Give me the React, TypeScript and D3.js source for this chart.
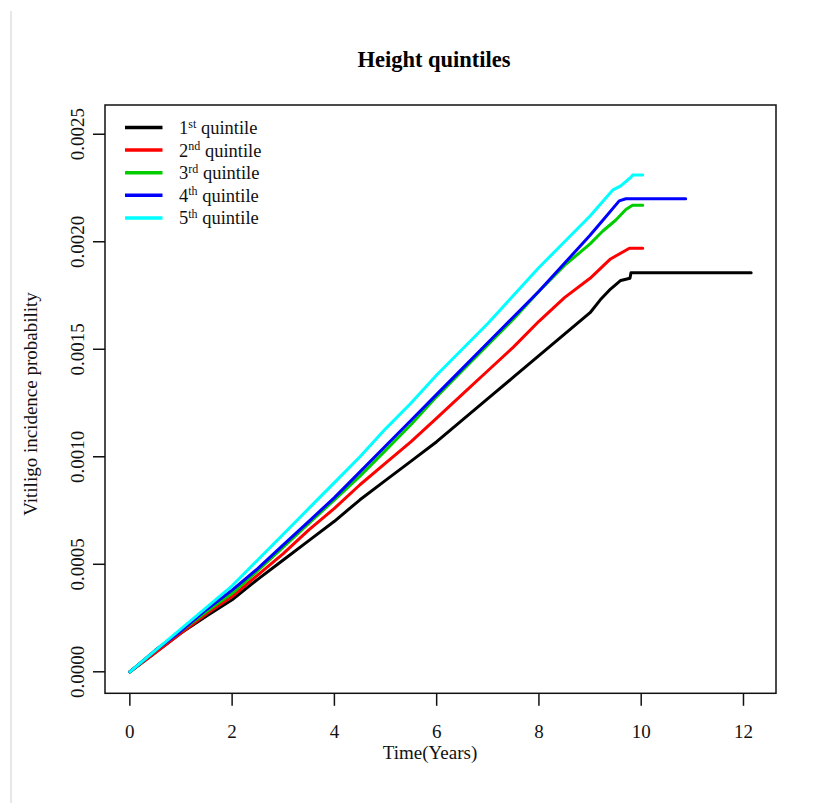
import React from 'react';
import * as d3 from 'd3';

// Cumulative incidence, [years, probability]
const q1: [number, number][] = [
  [0, 0], [0.5, 0.00009], [1, 0.00018], [1.5, 0.00026], [2, 0.000335], [2.5, 0.00043],
  [3, 0.00052], [3.5, 0.00061], [4, 0.0007], [4.5, 0.0008], [5, 0.00089], [5.5, 0.00098],
  [6, 0.00107], [6.5, 0.00117], [7, 0.00127], [7.5, 0.00137], [8, 0.00147], [8.5, 0.00157],
  [9, 0.00167], [9.2, 0.00173], [9.4, 0.00178], [9.6, 0.00182], [9.78, 0.00183],
  [9.8, 0.001856], [12.15, 0.001856],
];
const q2: [number, number][] = [
  [0, 0], [0.5, 0.00009], [1, 0.00018], [1.5, 0.00027], [2, 0.00035], [2.5, 0.00045],
  [3, 0.00055], [3.5, 0.00066], [4, 0.00076], [4.5, 0.00087], [5, 0.00097], [5.5, 0.00107],
  [6, 0.00118], [6.5, 0.00129], [7, 0.0014], [7.5, 0.00151], [8, 0.00163], [8.5, 0.00174],
  [9, 0.00183], [9.4, 0.00192], [9.77, 0.00197], [10.03, 0.00197],
];
const q3: [number, number][] = [
  [0, 0], [0.5, 0.0001], [1, 0.00019], [1.5, 0.00028], [2, 0.000365], [2.5, 0.00047],
  [3, 0.00058], [3.5, 0.00069], [4, 0.0008], [4.5, 0.00091], [5, 0.00103], [5.5, 0.00115],
  [6, 0.00128], [6.5, 0.0014], [7, 0.00152], [7.5, 0.00164], [8, 0.00177], [8.5, 0.00189],
  [9, 0.00199], [9.25, 0.00205], [9.5, 0.0021], [9.7, 0.00215], [9.83, 0.00217], [10.03, 0.00217],
];
const q4: [number, number][] = [
  [0, 0], [0.5, 0.0001], [1, 0.00019], [1.5, 0.00029], [2, 0.00038], [2.5, 0.00048],
  [3, 0.00059], [3.5, 0.0007], [4, 0.00081], [4.5, 0.00093], [5, 0.00105], [5.5, 0.00117],
  [6, 0.00129], [6.5, 0.00141], [7, 0.00153], [7.5, 0.00165], [8, 0.00177], [8.5, 0.0019],
  [9, 0.00203], [9.25, 0.0021], [9.57, 0.00219], [9.7, 0.0022], [10.87, 0.0022],
];
const q5: [number, number][] = [
  [0, 0], [0.5, 0.0001], [1, 0.0002], [1.5, 0.0003], [2, 0.0004], [2.5, 0.00052],
  [3, 0.00064], [3.5, 0.00076], [4, 0.00088], [4.5, 0.001], [5, 0.00113], [5.5, 0.00125],
  [6, 0.00138], [6.5, 0.0015], [7, 0.00162], [7.5, 0.00175], [8, 0.00188], [8.5, 0.002],
  [9, 0.00212], [9.44, 0.00224], [9.6, 0.00226], [9.8, 0.0023], [9.83, 0.00231], [10.03, 0.00231],
];

const seriesNames = ['1', '2', '3', '4', '5'];
const seriesSup = ['st', 'nd', 'rd', 'th', 'th'];
const seriesColors = ['#000000', '#ff0000', '#00cd00', '#0000ff', '#00ffff'];
const seriesData = [q1, q2, q3, q4, q5];

const xTicks = [0, 2, 4, 6, 8, 10, 12];
const yTicks = [0, 0.0005, 0.001, 0.0015, 0.002, 0.0025];
const xDomain: [number, number] = [-0.486, 12.636];
const yDomain: [number, number] = [-0.0001, 0.002636];

const font = '"Liberation Serif", "Times New Roman", serif';

export default function App() {
  const left = 105, right = 776, top = 105, bottom = 693.3;
  const x = d3.scaleLinear().domain(xDomain).range([left, right]);
  const y = d3.scaleLinear().domain(yDomain).range([bottom, top]);
  const line = d3.line<[number, number]>().x(d => x(d[0])).y(d => y(d[1]));

  return (
    <svg width={814} height={803} style={{ position: 'absolute', left: 0, top: 0, background: '#fff' }}
      fontFamily={font}>
      <line x1={11} x2={11} y1={11} y2={803} stroke="#cfcfcf" strokeWidth={1} />

      <text x={434} y={67} textAnchor="middle" fontSize={22.5} fontWeight="bold">Height quintiles</text>

      {/* curves */}
      {seriesData.map((d, i) => (
        <path key={i} d={line(d) || ''} fill="none" stroke={seriesColors[i]} strokeWidth={3}
          strokeLinejoin="round" strokeLinecap="round" />
      ))}

      {/* box */}
      <rect x={left} y={top} width={right - left} height={bottom - top} fill="none" stroke="#111" strokeWidth={1.5} />

      {/* x axis */}
      {xTicks.map(t => (
        <g key={t}>
          <line x1={x(t)} x2={x(t)} y1={bottom} y2={bottom + 12.5} stroke="#111" strokeWidth={1.5} />
          <text x={x(t)} y={737.5} textAnchor="middle" fontSize={19} fill="#111">{t}</text>
        </g>
      ))}
      <text x={430} y={759} textAnchor="middle" fontSize={19} fill="#111">Time(Years)</text>

      {/* y axis */}
      {yTicks.map(t => (
        <g key={t}>
          <line x1={left - 12} x2={left} y1={y(t)} y2={y(t)} stroke="#111" strokeWidth={1.5} />
          <text transform={`translate(83.5,${y(t)}) rotate(-90)`} textAnchor="middle" fontSize={19} fill="#111">
            {t.toFixed(4)}
          </text>
        </g>
      ))}
      <text transform="translate(37,404) rotate(-90)" textAnchor="middle" fontSize={19} fill="#111">
        Vitiligo incidence probability
      </text>

      {/* legend */}
      {seriesNames.map((n, i) => {
        const ly = 127.5 + i * 22.6;
        return (
          <g key={n}>
            <line x1={125} x2={162.5} y1={ly} y2={ly} stroke={seriesColors[i]} strokeWidth={3.5} />
            <text x={179} y={ly + 6.5} fontSize={18.5} fill="#111">
              {n}
              <tspan fontSize={12} dy={-6.5}>{seriesSup[i]}</tspan>
              <tspan dy={6.5}> quintile</tspan>
            </text>
          </g>
        );
      })}
    </svg>
  );
}
